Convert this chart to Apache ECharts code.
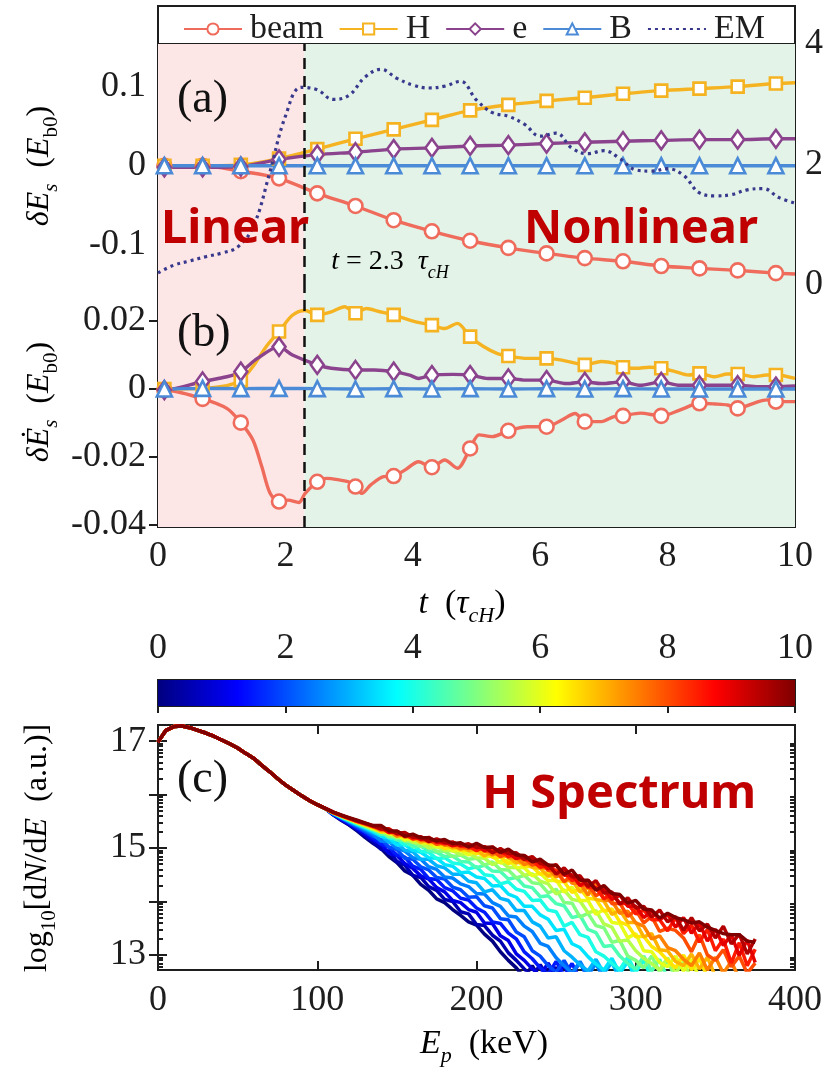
<!DOCTYPE html>
<html>
<head>
<meta charset="utf-8">
<script src="https://cdn.jsdelivr.net/npm/echarts@6/dist/echarts.min.js"></script>
<style>
  html, body { margin: 0; padding: 0; background: #ffffff; }
  #chart { width: 828px; height: 1074px; }
</style>
</head>
<body>
<div id="chart"></div>
<script>
// ---------------- data ----------------
// time (tau_cH) of the linear -> nonlinear transition
const tTransition = 2.3;
// times that carry a marker symbol on the curves of panels (a) and (b)
const markerTimes = [0.1, 0.7, 1.3, 1.9, 2.5, 3.1, 3.7, 4.3, 4.9, 5.5, 6.1, 6.7, 7.3, 7.9, 8.5, 9.1, 9.7];
const timeTickLabels = [0, 2, 4, 6, 8, 10];

// panel (a): energy change [t, dE] in units of E_b0
const energyBeam = [[0,0],[0.1,0],[0.7,0],[1.3,-0.007],[1.9,-0.016],[2.5,-0.035],[3.1,-0.051],[3.7,-0.069],[4.3,-0.083],[4.9,-0.095],[5.5,-0.104],[6.1,-0.111],[6.7,-0.117],[7.3,-0.121],[7.9,-0.127],[8.5,-0.130],[9.1,-0.1325],[9.7,-0.136],[10,-0.137]];
const energyH = [[0,0],[0.1,0],[0.7,0],[1.3,0.001],[1.9,0.009],[2.5,0.021],[3.1,0.034],[3.7,0.046],[4.3,0.058],[4.9,0.070],[5.5,0.077],[6.1,0.082],[6.7,0.086],[7.3,0.091],[7.9,0.095],[8.5,0.0975],[9.1,0.100],[9.7,0.104],[10,0.105]];
const energyE = [[0,-0.002],[0.1,-0.002],[0.7,-0.002],[1.3,-0.001],[1.9,0.008],[2.5,0.014],[3.1,0.017],[3.7,0.021],[4.3,0.0225],[4.9,0.025],[5.5,0.026],[6.1,0.028],[6.7,0.0296],[7.3,0.031],[7.9,0.032],[8.5,0.033],[9.1,0.033],[9.7,0.034],[10,0.034]];
const energyB = [[0,0],[0.1,0],[0.7,0],[1.3,0],[1.9,0],[2.5,0],[3.1,0],[3.7,0],[4.3,0],[4.9,0],[5.5,0],[6.1,0],[6.7,0],[7.3,0],[7.9,0],[8.5,0],[9.1,0],[9.7,0],[10,0]];
// EM field energy, right-hand axis
const energyEM = [[0,0.2],[0.25,0.33],[0.5,0.40],[0.75,0.47],[1,0.53],[1.25,0.63],[1.5,0.98],[1.75,1.85],[2,2.80],[2.25,3.28],[2.5,3.24],[2.75,3.08],[3,3.15],[3.25,3.45],[3.5,3.58],[3.75,3.43],[4,3.32],[4.25,3.27],[4.5,3.30],[4.75,3.38],[5,3.07],[5.25,2.86],[5.5,2.80],[5.75,2.67],[6,2.47],[6.25,2.52],[6.5,2.27],[6.75,2.18],[7,2.23],[7.25,2.10],[7.5,1.91],[7.75,1.89],[8,1.93],[8.25,1.82],[8.5,1.53],[8.75,1.48],[9,1.50],[9.25,1.58],[9.5,1.60],[9.75,1.45],[10,1.36]];

// panel (b): energy change rate [t, dE/dt]
const rateBeam = [[0,-0.0003],[0.1,-0.0003],[0.7,-0.0029],[1.08,-0.0057],[1.3,-0.0099],[1.49,-0.0150],[1.63,-0.0229],[1.76,-0.0307],[1.9,-0.0331],[2.04,-0.0327],[2.21,-0.0334],[2.31,-0.0307],[2.5,-0.0273],[2.65,-0.0263],[2.86,-0.0268],[2.99,-0.0273],[3.1,-0.0287],[3.2,-0.0307],[3.34,-0.0282],[3.54,-0.0258],[3.7,-0.0256],[3.88,-0.0238],[4.09,-0.0214],[4.3,-0.0230],[4.5,-0.0209],[4.7,-0.0233],[4.9,-0.0175],[5.04,-0.0135],[5.25,-0.0140],[5.5,-0.0123],[5.8,-0.0111],[6.1,-0.0111],[6.34,-0.0091],[6.55,-0.0072],[6.7,-0.0096],[6.96,-0.0096],[7.16,-0.0081],[7.3,-0.0079],[7.57,-0.0071],[7.9,-0.0079],[8.19,-0.0062],[8.39,-0.0047],[8.5,-0.0042],[8.74,-0.0044],[8.94,-0.0047],[9.1,-0.0057],[9.35,-0.0042],[9.56,-0.0032],[9.7,-0.0037],[10,-0.0037]];
const rateH = [[0,0],[0.1,0],[0.7,0.0002],[1.08,0.0010],[1.3,0.0026],[1.49,0.0066],[1.7,0.0125],[1.9,0.0169],[2.11,0.0217],[2.31,0.0231],[2.5,0.0218],[2.72,0.0227],[2.93,0.0242],[3.1,0.0223],[3.27,0.0237],[3.47,0.0228],[3.7,0.0218],[3.95,0.0203],[4.16,0.0193],[4.3,0.0188],[4.5,0.0178],[4.7,0.0193],[4.9,0.0154],[5.11,0.0125],[5.32,0.0105],[5.5,0.0097],[5.8,0.0090],[6.1,0.0090],[6.34,0.0085],[6.55,0.0076],[6.7,0.0071],[6.96,0.0081],[7.16,0.0076],[7.3,0.0064],[7.51,0.0061],[7.71,0.0064],[7.9,0.0061],[8.12,0.0051],[8.33,0.0041],[8.5,0.0046],[8.74,0.0036],[8.94,0.0044],[9.1,0.0044],[9.35,0.0036],[9.56,0.0041],[9.7,0.0041],[10,0.0031]];
const rateE = [[0,-0.0003],[0.1,-0.0003],[0.7,0.0022],[1.08,0.0036],[1.3,0.0051],[1.56,0.0090],[1.9,0.0124],[2.11,0.0100],[2.5,0.0071],[2.72,0.0061],[3.1,0.0056],[3.4,0.0056],[3.7,0.0051],[3.95,0.0041],[4.09,0.0031],[4.3,0.0041],[4.63,0.0043],[4.9,0.0041],[5.18,0.0031],[5.5,0.0031],[5.8,0.0026],[6.1,0.0026],[6.41,0.0016],[6.7,0.0021],[6.96,0.0016],[7.3,0.0021],[7.57,0.0011],[7.9,0.0021],[8.19,0.0011],[8.5,0.0011],[8.74,0.0011],[9.1,0.0011],[9.42,0.0007],[9.7,0.0007],[10,0.0009]];
const rateB = [[0,0],[0.1,0],[0.7,0.0002],[1.3,0.0001],[1.9,0.0002],[2.5,0.0001],[3.1,0],[3.7,0.0001],[4.3,0],[4.9,0.0001],[5.5,0],[6.1,0.0001],[6.7,0],[7.3,0.0001],[7.9,0],[8.5,0],[9.1,0],[9.7,0],[10,0]];

// panel (c): H spectra, log10(dN/dE), one curve per output time
const spectrumTimes = [0, 0.5, 1, 1.5, 2, 2.5, 3, 3.5, 4, 4.5, 5, 5.5, 6, 6.5, 7, 7.5, 8, 8.5, 9, 9.5, 10];
// low-energy part, common to all times
const lowEnergy = [0,5,10,15,20,25,30,35,40,45,50,55,60,65,70,75,80,85,90,95,100,105];
const lowEnergyLog = [16.98,17.20,17.27,17.28,17.25,17.20,17.15,17.09,17.02,16.95,16.87,16.77,16.68,16.55,16.43,16.30,16.18,16.08,15.98,15.89,15.81,15.74];
// high-energy tails, sampled from 110 keV every 5 keV
const tailStart = 110, tailStep = 5;
const tails = [
  [15.62,15.52,15.43,15.32,15.20,15.09,14.99,14.84,14.73,14.57,14.49,14.32,14.21,14.05,13.98,13.85,13.74,13.62,13.56,13.39,13.26,13.06,12.90,12.76,12.58,12.80,12.55,12.74,12.50],
  [15.62,15.53,15.44,15.34,15.23,15.12,14.98,14.94,14.75,14.68,14.49,14.45,14.28,14.21,14.04,14.00,13.81,13.77,13.57,13.55,13.37,13.26,13.04,12.90,12.74,12.60,12.82,12.58,12.77,12.50],
  [15.63,15.54,15.45,15.36,15.26,15.15,15.07,14.90,14.86,14.71,14.62,14.48,14.42,14.26,14.18,14.02,13.98,13.85,13.80,13.60,13.59,13.36,13.27,13.02,12.90,12.74,12.62,12.85,12.60,12.80,12.55],
  [15.63,15.55,15.47,15.38,15.29,15.19,15.08,15.01,14.87,14.83,14.66,14.60,14.43,14.41,14.26,14.20,14.06,14.03,13.88,13.80,13.62,13.59,13.41,13.30,13.06,12.93,12.76,12.64,12.88,12.62,12.84,12.55],
  [15.64,15.56,15.48,15.40,15.31,15.22,15.17,15.02,14.97,14.81,14.79,14.65,14.59,14.45,14.42,14.27,14.22,14.08,14.09,13.92,13.88,13.68,13.66,13.43,13.34,13.08,12.98,12.80,12.68,12.90,12.64,12.86,12.55],
  [15.64,15.57,15.49,15.42,15.34,15.26,15.13,15.12,15.00,14.94,14.82,14.79,14.65,14.60,14.46,14.44,14.33,14.28,14.15,14.14,13.98,13.91,13.73,13.71,13.54,13.44,13.22,13.16,12.95,12.80,12.66,12.88,12.62,12.84,12.55],
  [15.65,15.57,15.50,15.43,15.36,15.29,15.23,15.11,15.10,14.96,14.93,14.79,14.79,14.67,14.63,14.51,14.51,14.38,14.35,14.18,14.22,14.06,14.02,13.83,13.83,13.62,13.54,13.32,13.34,13.08,12.96,12.82,12.70,12.92,12.66,12.86,12.55],
  [15.65,15.58,15.51,15.44,15.38,15.31,15.22,15.19,15.06,15.06,14.96,14.92,14.82,14.81,14.69,14.66,14.54,14.55,14.46,14.43,14.29,14.30,14.14,14.08,13.91,13.91,13.75,13.67,13.46,13.48,13.21,13.14,12.97,12.83,12.72,12.94,12.66,12.88,12.55],
  [15.65,15.58,15.52,15.45,15.39,15.33,15.29,15.19,15.16,15.06,15.06,14.94,14.92,14.80,14.82,14.72,14.70,14.61,14.65,14.50,14.48,14.33,14.37,14.23,14.19,14.02,14.03,13.84,13.81,13.54,13.61,13.38,13.33,13.06,12.98,12.84,12.73,12.96,12.68,12.90,12.56],
  [15.66,15.59,15.52,15.46,15.40,15.34,15.26,15.26,15.15,15.13,15.02,15.04,14.95,14.92,14.84,14.85,14.75,14.74,14.63,14.68,14.57,14.56,14.42,14.45,14.29,14.26,14.09,14.11,13.96,13.92,13.70,13.74,13.48,13.42,13.16,13.18,12.98,12.84,12.74,12.98,12.70,12.92,12.56],
  [15.66,15.59,15.53,15.47,15.41,15.35,15.32,15.21,15.22,15.13,15.12,15.03,15.05,14.94,14.94,14.84,14.87,14.79,14.81,14.68,14.74,14.60,14.59,14.44,14.49,14.35,14.33,14.16,14.23,13.98,13.97,13.71,13.78,13.55,13.51,13.24,13.27,12.98,12.90,12.76,12.98,12.68,12.90,12.56],
  [15.66,15.60,15.54,15.48,15.42,15.36,15.30,15.28,15.19,15.21,15.10,15.10,15.00,15.03,14.96,14.95,14.88,14.90,14.82,14.81,14.69,14.75,14.64,14.63,14.49,14.52,14.38,14.33,14.14,14.22,14.04,14.01,13.79,13.83,13.58,13.52,13.26,13.28,13.08,12.94,12.84,12.72,12.95,12.66,12.88,12.55],
  [15.66,15.60,15.54,15.48,15.43,15.37,15.36,15.26,15.25,15.15,15.18,15.10,15.09,15.02,15.04,14.95,14.96,14.87,14.94,14.83,14.85,14.72,14.78,14.64,14.63,14.48,14.53,14.39,14.40,14.18,14.27,14.02,14.02,13.76,13.85,13.61,13.59,13.32,13.40,13.08,13.06,12.86,12.78,12.98,12.70,12.92,12.56],
  [15.66,15.60,15.54,15.49,15.44,15.38,15.30,15.32,15.23,15.22,15.15,15.17,15.08,15.08,14.99,15.03,14.96,14.96,14.89,14.94,14.83,14.83,14.71,14.77,14.66,14.65,14.51,14.54,14.38,14.37,14.17,14.24,14.06,14.04,13.82,13.86,13.62,13.56,13.34,13.35,13.16,13.06,12.90,12.76,13.00,12.72,12.94,12.58],
  [15.66,15.60,15.55,15.49,15.44,15.39,15.37,15.28,15.29,15.20,15.20,15.11,15.15,15.07,15.08,15.00,15.04,14.95,14.98,14.85,14.93,14.84,14.84,14.72,14.77,14.64,14.62,14.47,14.56,14.38,14.40,14.18,14.26,14.04,14.01,13.76,13.84,13.61,13.61,13.34,13.40,13.10,13.08,12.88,12.80,13.02,12.74,12.96,12.60],
  [15.66,15.60,15.55,15.50,15.45,15.40,15.33,15.33,15.22,15.26,15.18,15.18,15.11,15.14,15.05,15.06,14.98,15.02,14.97,14.98,14.87,14.94,14.82,14.82,14.69,14.75,14.63,14.62,14.46,14.55,14.34,14.34,14.12,14.38,14.03,14.01,13.78,13.82,13.60,13.54,13.30,13.36,13.14,13.08,12.92,12.80,13.04,12.72,12.96,12.66,12.88,12.56],
  [15.66,15.61,15.55,15.50,15.45,15.40,15.39,15.30,15.29,15.21,15.24,15.15,15.16,15.07,15.11,15.05,15.05,14.99,15.06,14.94,14.95,14.84,14.91,14.81,14.82,14.68,14.73,14.58,14.59,14.37,14.49,14.30,14.32,14.11,14.20,13.96,13.97,13.72,13.84,13.60,13.72,13.44,13.50,13.46,13.32,13.06,13.38,13.00,12.90,13.10,12.78,12.98,12.66,12.85],
  [15.67,15.61,15.56,15.50,15.46,15.41,15.35,15.36,15.26,15.26,15.17,15.21,15.14,15.14,15.08,15.11,15.03,15.04,14.95,15.03,14.94,14.96,14.84,14.90,14.78,14.77,14.64,14.68,14.56,14.56,14.39,14.46,14.26,14.26,14.05,14.14,13.97,13.96,13.77,13.84,13.66,13.66,13.45,13.70,13.40,13.56,13.24,13.48,13.08,13.30,12.85,13.23,12.80,13.11],
  [15.67,15.61,15.56,15.51,15.46,15.41,15.39,15.29,15.31,15.24,15.23,15.16,15.20,15.11,15.12,15.04,15.09,15.02,15.06,14.95,15.02,14.91,14.91,14.80,14.86,14.76,14.75,14.61,14.69,14.49,14.50,14.30,14.40,14.24,14.24,14.04,14.12,13.91,13.91,13.70,13.82,13.66,13.76,13.52,13.70,13.41,13.59,13.26,13.48,13.18,13.38,12.99,13.28,12.86],
  [15.67,15.61,15.56,15.51,15.46,15.42,15.36,15.35,15.27,15.29,15.20,15.21,15.12,15.17,15.10,15.11,15.05,15.08,15.01,15.02,14.91,14.99,14.90,14.91,14.79,14.84,14.71,14.69,14.51,14.63,14.46,14.48,14.28,14.39,14.16,14.18,13.95,14.07,13.88,13.91,13.71,13.84,13.62,13.72,13.46,13.70,13.45,13.58,13.32,13.54,13.21,13.39,13.02,13.30],
  [15.67,15.62,15.57,15.52,15.47,15.42,15.42,15.32,15.32,15.22,15.26,15.19,15.19,15.13,15.16,15.08,15.10,15.02,15.09,15.01,15.02,14.92,14.98,14.87,14.86,14.74,14.79,14.68,14.68,14.51,14.59,14.40,14.40,14.21,14.30,14.15,14.13,13.97,14.02,13.86,13.84,13.69,13.78,13.70,13.66,13.60,13.62,13.52,13.46,13.40,13.38,13.38,13.26,13.24]
];
const energyTickLabels = [0, 100, 200, 300, 400];
const logTickLabels = [13, 15, 17];

// ---------------- styling ----------------
const SERIF = "'Liberation Serif', 'Times New Roman', serif";
const SANS = "'Noto Sans', 'Open Sans', sans-serif";
const INK = '#1e1e1e';
const COL = { beam: '#ef6b5b', H: '#f5b321', e: '#8a438c', B: '#4a8ad6', EM: '#38388d' };
const PANEL_L = 158, PANEL_W = 637;

// MATLAB-style jet colour map, v in [0, 1]
function jet(v) {
  const c = x => Math.max(0, Math.min(1, x));
  const r = c(1.5 - Math.abs(4 * v - 3));
  const g = c(1.5 - Math.abs(4 * v - 2));
  const b = c(1.5 - Math.abs(4 * v - 1));
  return 'rgb(' + Math.round(r * 255) + ',' + Math.round(g * 255) + ',' + Math.round(b * 255) + ')';
}

const markerKeys = new Set(markerTimes.map(t => t.toFixed(2)));
function withMarkers(pairs) {
  return pairs.map(p => markerKeys.has(p[0].toFixed(2)) ? { value: p } : { value: p, symbol: 'none' });
}

function curve(name, pairs, color, symbol, size, xi, yi, z) {
  return {
    name, type: 'line', xAxisIndex: xi, yAxisIndex: yi, z,
    data: withMarkers(pairs), smooth: 0.3, showAllSymbol: true,
    symbol, symbolSize: size, silent: true,
    lineStyle: { color, width: 3.4 },
    itemStyle: { color: '#ffffff', borderColor: color, borderWidth: 2.6 }
  };
}

function shade(xi, yi) {
  return {
    type: 'line', xAxisIndex: xi, yAxisIndex: yi, data: [], z: 1, silent: true,
    markArea: {
      silent: true,
      data: [
        [{ xAxis: 0, itemStyle: { color: '#fde6e6' } }, { xAxis: tTransition }],
        [{ xAxis: tTransition, itemStyle: { color: '#e3f3e8' } }, { xAxis: 10 }]
      ]
    }
  };
}

function divider(xi, yi) {
  return {
    type: 'line', xAxisIndex: xi, yAxisIndex: yi, data: [], z: 8, silent: true,
    markLine: {
      silent: true, symbol: ['none', 'none'], label: { show: false },
      lineStyle: { color: '#111111', width: 2.5, type: [11, 7] },
      data: [{ xAxis: tTransition }]
    }
  };
}

const tickLabel = { fontFamily: SERIF, fontSize: 36, color: INK };

function xAxisFor(grid, position, showLabels, min, max, interval) {
  return {
    type: 'value', gridIndex: grid, position, min, max, interval,
    axisLine: { show: false }, splitLine: { show: false },
    axisTick: { show: true, inside: true, length: 9, lineStyle: { color: INK, width: 2 } },
    axisLabel: Object.assign({ show: showLabels, margin: 12 }, tickLabel)
  };
}

function yAxisFor(grid, position, showLabels, min, max, ticks, extra) {
  return Object.assign({
    type: 'value', gridIndex: grid, position, min, max,
    axisLine: { show: false }, splitLine: { show: false },
    axisTick: { show: true, inside: true, length: 9, customValues: ticks, lineStyle: { color: INK, width: 2 } },
    axisLabel: Object.assign({ show: showLabels, margin: 12, customValues: ticks }, tickLabel)
  }, extra || {});
}

// minor ticks of the log axis (k * 10^n for k = 2..9)
const minorLogTicks = [];
for (let n = 12; n <= 17; n++) {
  for (let k = 2; k <= 9; k++) {
    const v = n + Math.log10(k);
    if (v > 12.72 && v < 17.3) minorLogTicks.push(v);
  }
}

const gradientStops = [];
for (let k = 0; k <= 16; k++) gradientStops.push({ offset: k / 16, color: jet(k / 16) });

// ---------------- panels ----------------
const gridBox = { show: true, borderColor: INK, borderWidth: 2, backgroundColor: 'transparent', containLabel: false };
const grids = [
  Object.assign({ left: PANEL_L, top: 44, width: PANEL_W, height: 241 }, gridBox),   // (a)
  Object.assign({ left: PANEL_L, top: 285, width: PANEL_W, height: 242 }, gridBox),  // (b)
  Object.assign({ left: PANEL_L, top: 680, width: PANEL_W, height: 26 }, gridBox),   // colour bar
  Object.assign({ left: PANEL_L, top: 725, width: PANEL_W, height: 245 }, gridBox)   // (c)
];

const xAxes = [
  xAxisFor(0, 'bottom', false, 0, 10, 2),
  xAxisFor(0, 'top', false, 0, 10, 2),
  xAxisFor(1, 'bottom', true, 0, 10, 2),
  xAxisFor(1, 'top', false, 0, 10, 2),
  xAxisFor(2, 'top', true, 0, 10, 2),
  xAxisFor(3, 'bottom', true, 0, 400, 100),
  xAxisFor(3, 'top', false, 0, 400, 100)
];
xAxes[2].axisLabel.customValues = timeTickLabels;
xAxes[4].axisLabel.customValues = timeTickLabels;
xAxes[4].axisLabel.margin = 13;
xAxes[4].axisTick.length = 7;
xAxes[5].axisLabel.customValues = energyTickLabels;
xAxes[5].axisLabel.margin = 13;

const yAxes = [
  yAxisFor(0, 'left', true, -0.151, 0.154, [-0.1, 0, 0.1]),
  yAxisFor(0, 'right', true, 0, 4, [0, 2, 4]),
  yAxisFor(1, 'left', true, -0.0406, 0.0306, [-0.04, -0.02, 0, 0.02]),
  yAxisFor(1, 'right', false, -0.0406, 0.0306, [-0.04, -0.02, 0, 0.02]),
  yAxisFor(2, 'left', false, 0, 1, [], { show: false }),
  yAxisFor(3, 'left', true, 12.72, 17.3, [13, 14, 15, 16, 17]),
  yAxisFor(3, 'right', false, 12.72, 17.3, [13, 14, 15, 16, 17]),
  yAxisFor(3, 'left', false, 12.72, 17.3, minorLogTicks),
  yAxisFor(3, 'right', false, 12.72, 17.3, minorLogTicks)
];
yAxes[1].axisTick.show = false;
yAxes[1].axisLabel.margin = 10;
yAxes[5].axisLabel.customValues = logTickLabels;
yAxes[7].axisTick.length = 5;
yAxes[8].axisTick.length = 5;

const series = [
  shade(0, 0),
  curve('beam', energyBeam, COL.beam, 'circle', 14, 0, 0, 3),
  curve('H', energyH, COL.H, 'rect', 12, 0, 0, 3),
  curve('e', energyE, COL.e, 'diamond', [13, 18], 0, 0, 3),
  curve('B', energyB, COL.B, 'triangle', 15, 0, 0, 3),
  {
    name: 'EM', type: 'line', xAxisIndex: 0, yAxisIndex: 1, z: 4, silent: true,
    data: energyEM, smooth: 0.4, symbol: 'none',
    lineStyle: { color: COL.EM, width: 3.2, type: [3, 4] },
    itemStyle: { color: COL.EM }
  },
  divider(0, 0),
  shade(2, 2),
  curve('beam', rateBeam, COL.beam, 'circle', 14, 2, 2, 3),
  curve('H', rateH, COL.H, 'rect', 12, 2, 2, 3),
  curve('e', rateE, COL.e, 'diamond', [13, 18], 2, 2, 3),
  curve('B', rateB, COL.B, 'triangle', 15, 2, 2, 3),
  divider(2, 2),
  {
    type: 'line', xAxisIndex: 4, yAxisIndex: 4, silent: true,
    data: [[0, 1], [10, 1]], symbol: 'none', lineStyle: { width: 0 },
    areaStyle: { opacity: 1, color: new echarts.graphic.LinearGradient(0, 0, 1, 0, gradientStops) }
  }
];

spectrumTimes.forEach((t, i) => {
  const pts = lowEnergy.map((e, j) => [e, lowEnergyLog[j]]);
  tails[i].forEach((v, j) => pts.push([tailStart + j * tailStep, v]));
  series.push({
    type: 'line', xAxisIndex: 5, yAxisIndex: 5, data: pts, symbol: 'none',
    silent: true, z: 2, clip: true,
    lineStyle: { color: jet(t / 10), width: 3.5 }
  });
});

// rich-text pieces for the titles
const rich = (size) => ({
  n: { fontFamily: SERIF, fontSize: size, lineHeight: size + 12, color: INK },
  i: { fontFamily: SERIF, fontSize: size, fontStyle: 'italic', lineHeight: size + 12, color: INK },
  s: { fontFamily: SERIF, fontSize: Math.round(size * 0.65), lineHeight: Math.round(size * 0.65), verticalAlign: 'bottom', color: INK },
  si: { fontFamily: SERIF, fontSize: Math.round(size * 0.65), fontStyle: 'italic', lineHeight: Math.round(size * 0.65), verticalAlign: 'bottom', color: INK }
});

function label(x, y, text, size, opts) {
  return Object.assign({
    type: 'text', x, y, z: 20, silent: true,
    style: { text, rich: rich(size), align: 'center', verticalAlign: 'middle' }
  }, opts || {});
}

function plain(x, y, text, font, fill, align) {
  return {
    type: 'text', x, y, z: 20, silent: true,
    style: { text, font, fill, align: align || 'left', verticalAlign: 'middle' }
  };
}

const graphic = [
  { type: 'rect', z: 0, silent: true, shape: { x: PANEL_L, y: 6, width: PANEL_W, height: 38 },
    style: { fill: '#ffffff', stroke: INK, lineWidth: 2 } },
  plain(177, 100, '(a)', '46px ' + SERIF, '#111'),
  plain(177, 334, '(b)', '46px ' + SERIF, '#111'),
  plain(177, 780, '(c)', '46px ' + SERIF, '#111'),
  plain(161, 230, 'Linear', 'bold 47px ' + SANS, '#c00000'),
  plain(758, 230, 'Nonlinear', 'bold 47px ' + SANS, '#c00000', 'right'),
  plain(756, 795, 'H Spectrum', 'bold 47px ' + SANS, '#c00000', 'right'),
  label(390, 262, '{i|t}{n| = ' + tTransition + '  }{i|τ}{si|cH}', 28),
  label(40, 166, '{i|δE}{si|s}{n|  (}{i|E}{s|b0}{n|)}', 32, { rotation: Math.PI / 2 }),
  label(40, 402, '{i|δĖ}{si|s}{n|  (}{i|E}{s|b0}{n|)}', 32, { rotation: Math.PI / 2 }),
  label(38, 848, '{n|log}{s|10}{n|[d}{i|N}{n|/d}{i|E}{n|  (a.u.)]}', 32, { rotation: Math.PI / 2 }),
  label(462, 604, '{i|t}{n|  (}{i|τ}{si|cH}{n|)}', 34),
  label(484, 1044, '{i|E}{si|p}{n|  (keV)}', 34)
];

const chart = echarts.init(document.getElementById('chart'), null, { renderer: 'canvas' });
chart.setOption({
  animation: false,
  backgroundColor: '#ffffff',
  textStyle: { fontFamily: SERIF },
  legend: {
    data: ['beam', 'H', 'e', 'B', { name: 'EM', itemStyle: { opacity: 0 } }],
    left: 178, top: 7, z: 10,
    itemWidth: 58, itemHeight: 14, itemGap: 15, selectedMode: false,
    textStyle: { fontFamily: SERIF, fontSize: 34, color: INK, padding: [0, 0, 0, 3] }
  },
  grid: grids,
  xAxis: xAxes,
  yAxis: yAxes,
  series,
  graphic
});
</script>
</body>
</html>
